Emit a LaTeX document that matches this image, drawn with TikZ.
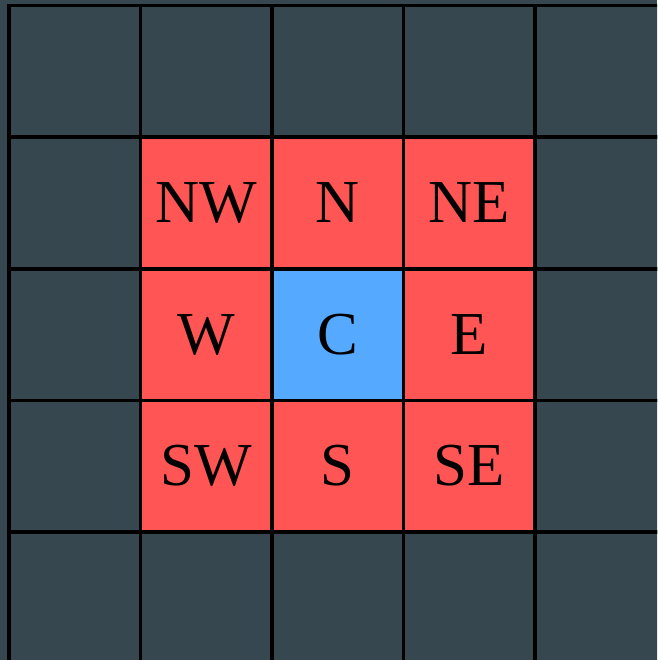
\documentclass[tikz,border=0pt]{standalone}
\usepackage{fontspec}
\setmainfont{Liberation Serif}
\definecolor{slate}{HTML}{37474F}
\definecolor{cellred}{HTML}{FF5555}
\definecolor{cellblue}{HTML}{55AAFF}
\begin{document}
\begin{tikzpicture}[x=1pt,y=-1pt,
  cell/.style={draw=black,line width=3.5pt,fill=slate,minimum size=131.5pt,inner sep=0pt,outer sep=0pt,
    font=\fontsize{61}{61}\selectfont,text=black},
  nb/.style={fill=cellred},
  ctr/.style={fill=cellblue}]
\fill[slate] (0,0) rectangle (657,660);
\useasboundingbox (0,0) rectangle (657,660);
\clip (0,0) rectangle (657,660);
\foreach \i in {0,...,4}{
  \foreach \j in {0,...,4}{
    \node[cell] (g\i\j) at ({74.5+131.5*\i},{71.5+131.5*\j}) {};
  }
}
\node[cell,nb] (nw) at ({74.5+131.5*1},{71.5+131.5*1}) {NW};
\node[cell,nb] (n) at ({74.5+131.5*2},{71.5+131.5*1}) {N};
\node[cell,nb] (ne) at ({74.5+131.5*3},{71.5+131.5*1}) {NE};
\node[cell,nb] (w) at ({74.5+131.5*1},{71.5+131.5*2}) {W};
\node[cell,ctr] (c) at ({74.5+131.5*2},{71.5+131.5*2}) {C};
\node[cell,nb] (e) at ({74.5+131.5*3},{71.5+131.5*2}) {E};
\node[cell,nb] (sw) at ({74.5+131.5*1},{71.5+131.5*3}) {SW};
\node[cell,nb] (s) at ({74.5+131.5*2},{71.5+131.5*3}) {S};
\node[cell,nb] (se) at ({74.5+131.5*3},{71.5+131.5*3}) {SE};
\end{tikzpicture}
\end{document}
